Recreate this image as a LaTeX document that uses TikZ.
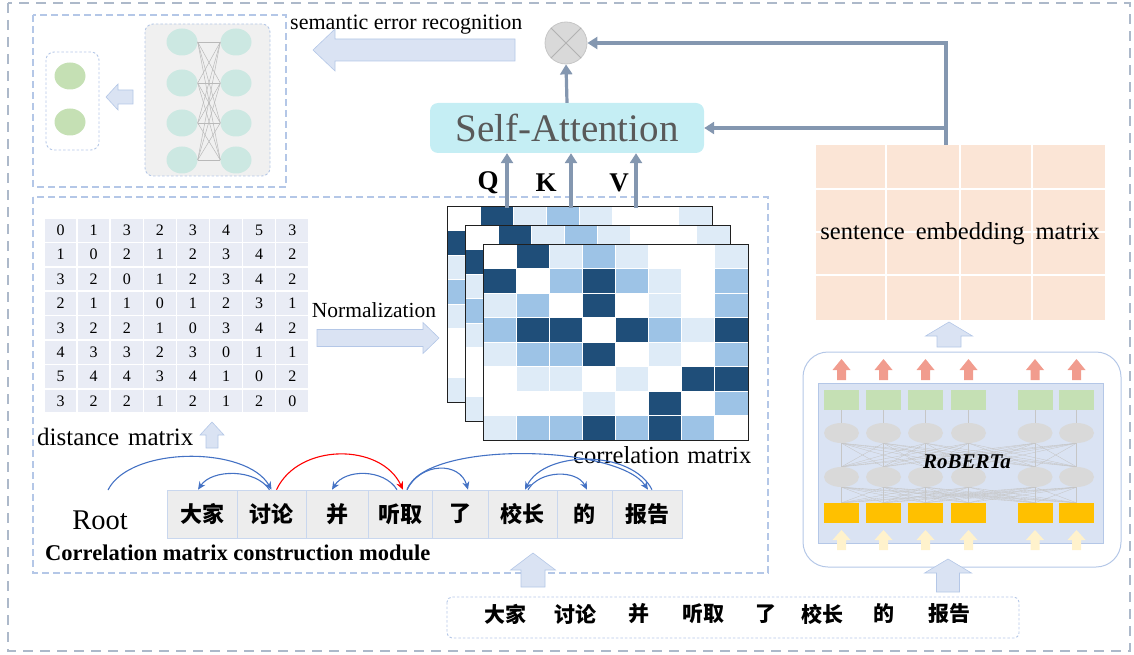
\documentclass[tikz,border=0pt]{standalone}
\usepackage{fontspec}
\setmainfont{Liberation Serif}
\newfontfamily\cjk{Noto Sans CJK SC}
\usetikzlibrary{arrows.meta,shapes.geometric}
\newcommand\setfs[1]{\fontsize{#1}{#1}\selectfont}

\definecolor{frameC}{HTML}{ADB9CA}
\definecolor{dashblue}{HTML}{B4C7E7}
\definecolor{arrowfill}{HTML}{DAE3F3}
\definecolor{connC}{HTML}{8497B0}
\definecolor{cD}{HTML}{1F4E79}
\definecolor{cM}{HTML}{9DC3E6}
\definecolor{cL}{HTML}{DEEBF7}
\definecolor{cW}{HTML}{FFFFFF}
\definecolor{tealC}{HTML}{CCE8E2}
\definecolor{leafC}{HTML}{C5E0B4}
\definecolor{peachC}{HTML}{FBE5D6}
\definecolor{cyanC}{HTML}{C5EEF4}
\definecolor{depC}{HTML}{4472C4}
\definecolor{salmonC}{HTML}{F19C8E}
\definecolor{goldC}{HTML}{FFC000}
\definecolor{creamC}{HTML}{FFF2CC}
\definecolor{distC}{HTML}{E9ECF5}
\definecolor{tokenC}{HTML}{EDEDED}
\definecolor{tokenB}{HTML}{C9D7EE}
\definecolor{textgray}{HTML}{595959}

\tikzset{
  pics/fatarrow/.style n args={5}{code={
    \path[#5] (0,-#2) -- ({#1-#4},-#2) -- ({#1-#4},-#3) -- (#1,0)
      -- ({#1-#4},#3) -- ({#1-#4},#2) -- (0,#2) -- cycle;
  }},
  blockarrow/.style={fill=arrowfill, draw=dashblue, line width=0.6pt},
}

\begin{document}
\begin{tikzpicture}[x=1pt,y=-1pt,
  frame/.style={draw=frameC, line width=2.2pt, dash pattern=on 10pt off 7pt},
  dashbox/.style={draw=dashblue, line width=1.2pt, dash pattern=on 7pt off 4pt},
  finedash/.style={draw=dashblue, line width=0.9pt, dash pattern=on 2.5pt off 2pt},
  neuron/.style={ellipse, fill=tealC, minimum width=31pt, minimum height=27pt, inner sep=0pt},
  outnode/.style={ellipse, fill=leafC, minimum width=31pt, minimum height=27pt, inner sep=0pt},
  wire/.style={draw=gray!55, line width=0.5pt},
  thinwire/.style={draw=gray!45, line width=0.35pt},
  conn/.style={draw=connC, line width=3.2pt, -{Triangle[length=10pt,width=12pt]}},
  dep/.style={draw=depC, line width=1.1pt, -{Stealth[length=8pt,width=7pt]}},
  redep/.style={draw=red, line width=1.1pt, -{Stealth[length=8pt,width=7pt]}},
  dcell/.style={fill=distC, draw=white, line width=1.5pt, minimum width=33.1pt,
    minimum height=24.4pt, inner sep=0pt, font=\setfs{16}},
  token/.style={fill=tokenC, draw=tokenB, line width=0.6pt, minimum height=48pt,
    inner sep=0pt, font=\cjk\bfseries\setfs{22}},
  word/.style={font=\cjk\bfseries\setfs{21}, inner sep=0pt},
  greenbox/.style={fill=leafC, minimum width=35pt, minimum height=20pt, inner sep=0pt},
  goldbox/.style={fill=goldC, minimum width=35pt, minimum height=20pt, inner sep=0pt},
  grayell/.style={ellipse, fill=gray!30, minimum width=35pt, minimum height=20pt, inner sep=0pt},
]
\useasboundingbox (0,0) rectangle (1134,655);

% outer frame
\draw[frame] (8,3) rectangle (1130,651);

% ---------- classifier module (top left) ----------
\draw[dashbox] (33,15) rectangle (286,187);
\draw[finedash, fill=gray!12, rounded corners=8pt] (145,24) rectangle (270,176);
\foreach \k/\y in {1/42,2/83,3/123,4/160} {
  \node[neuron] (nl\k) at (182,\y) {};
  \node[neuron] (nr\k) at (236,\y) {};
}
\foreach \i in {1,...,4} \foreach \j in {1,...,4} \draw[wire] (nl\i.east) -- (nr\j.west);
\draw[finedash, rounded corners=8pt] (46,52) rectangle (99,150);
\node[outnode] (o1) at (70,76) {};
\node[outnode] (o2) at (70,122) {};
\pic[rotate=180] at (133,97) {fatarrow={27}{7}{13}{12}{blockarrow}};

% semantic error recognition
\pic[rotate=180] at (515,50) {fatarrow={202}{11}{21}{22}{blockarrow}};
\node[anchor=base west, inner sep=0pt, font=\setfs{22}] (serlbl) at (290,30) {semantic error recognition};

% ---------- attention and fusion ----------
\node[circle, draw=gray!45, fill=gray!30, line width=0.8pt, minimum size=42pt, inner sep=0pt] (mult) at (566,43) {};
\draw[gray!60, line width=0.8pt] (mult.north west) -- (mult.south east) (mult.north east) -- (mult.south west);
\node[rounded corners=8pt, fill=cyanC, minimum width=274pt, minimum height=50pt, inner sep=0pt,
  text=textgray, font=\setfs{39}] (sa) at (567,128) {Self-Attention};
\draw[conn] (sa.north) -- (mult.south);

% ---------- correlation matrix construction module ----------
\draw[dashbox] (33,197) rectangle (768,573);

% distance matrix
\foreach \rowvals [count=\i from 0] in {{0,1,3,2,3,4,5,3},{1,0,2,1,2,3,4,2},{3,2,0,1,2,3,4,2},
  {2,1,1,0,1,2,3,1},{3,2,2,1,0,3,4,2},{4,3,3,2,3,0,1,1},{5,4,4,3,4,1,0,2},{3,2,2,1,2,1,2,0}} {
  \foreach \v [count=\j from 0] in \rowvals {
    \node[dcell] (d\i\j) at ({60.55+33.1*\j},{230.2+24.4*\i}) {\v};
  }
}
\node[anchor=base west, inner sep=0pt, font=\setfs{25}] (dmlbl) at (37,445) {distance\hspace{9pt}matrix};
\pic[rotate=90] at (212,448) {fatarrow={26}{6}{12}{13}{blockarrow}};

% normalization
\node[anchor=base, inner sep=0pt, font=\setfs{21.5}] (normlbl) at (374,317) {Normalization};
\pic at (317,338) {fatarrow={122}{8.5}{15.5}{16}{blockarrow}};

% stacked correlation matrices
\foreach \ox/\oy/\nm in {447/206/cmA, 465/225/cmB, 483/244/cmC} {
  \fill[white] (\ox,\oy) rectangle ++(265,196);
  \foreach \rowc [count=\i from 0] in {{cW,cD,cL,cM,cL,cW,cW,cL},{cD,cW,cM,cD,cM,cL,cW,cM},
    {cL,cM,cW,cD,cW,cL,cW,cM},{cM,cD,cD,cW,cD,cM,cL,cD},{cL,cM,cM,cD,cW,cL,cW,cM},
    {cW,cL,cL,cW,cL,cW,cD,cD},{cW,cW,cW,cL,cW,cD,cW,cM},{cL,cM,cM,cD,cM,cD,cM,cW}} {
    \foreach \c [count=\j from 0] in \rowc {
      \filldraw[fill=\c, draw=white, line width=0.8pt] ({\ox+33.125*\j},{\oy+24.5*\i}) rectangle ++(33.125,24.5);
    }
  }
  \node[draw=gray!25!black, line width=1.3pt, minimum width=265pt, minimum height=196pt,
    inner sep=0pt, anchor=north west] (\nm) at (\ox,\oy) {};
}
\node[anchor=base west, inner sep=0pt, font=\setfs{24.5}] (cmlbl) at (573,463) {correlation\hspace{8pt}matrix};

% Q, K, V
\coordinate (qa) at (507,208);
\coordinate (ka) at (571,208);
\coordinate (va) at (636,208);
\draw[conn] (qa) -- (qa |- sa.south);
\draw[conn] (ka) -- (ka |- sa.south);
\draw[conn] (va) -- (va |- sa.south);
\node[font=\bfseries\setfs{27}, inner sep=0pt] (qlbl) at (488,183) {Q};
\node[font=\bfseries\setfs{27}, inner sep=0pt] (klbl) at (546,183) {K};
\node[font=\bfseries\setfs{27}, inner sep=0pt] (vlbl) at (619,183) {V};

% dependency tree over the tokens
\node[inner sep=0pt, font=\setfs{28.5}] (root) at (100,520) {Root};
\coordinate (rootarc) at (108,490);
\foreach \w/\cx/\tw [count=\k] in {大家/202/70, 讨论/271.5/69, 并/337/62, 听取/400/64,
  了/460/56, 校长/522.5/69, 的/584.5/55, 报告/647/70} {
  \node[token, minimum width=\tw pt] (t\k) at (\cx,514) {\w};
}
\draw[dep] (rootarc) .. controls +(22,-44) and +(-25,-44) .. (t2.north);
\draw[dep] ([xshift=-2pt]t2.north) .. controls +(-14,-21) and +(14,-21) .. ([xshift=-4pt]t1.north);
\draw[redep] ([xshift=5pt]t2.north) .. controls +(22,-47) and +(-22,-47) .. ([xshift=3pt]t4.north);
\draw[dep] ([xshift=-3pt]t4.north) .. controls +(-13,-21) and +(13,-21) .. ([xshift=-5pt]t3.north);
\draw[dep] ([xshift=7pt]t4.north) .. controls +(14,-28) and +(-8,-28) .. ([xshift=8pt]t5.north);
\draw[dep] ([xshift=7pt]t4.north) .. controls +(18,-50) and +(-30,-45) .. ([xshift=1pt]t8.north);
\draw[dep] ([xshift=5pt]t8.north) .. controls +(-20,-40) and +(20,-40) .. ([xshift=2.5pt]t6.north);
\draw[dep] ([xshift=5.5pt]t6.north) .. controls +(12,-20) and +(-10,-20) .. ([xshift=2.5pt]t7.north);

\node[anchor=base west, inner sep=0pt, font=\bfseries\setfs{22.5}] (modlbl) at (45,560) {Correlation matrix construction module};

\pic[rotate=90] at (533,587) {fatarrow={34}{12}{22.5}{17}{blockarrow}};

% ---------- sentence embedding ----------
\node[fill=peachC, minimum width=289pt, minimum height=175pt, inner sep=0pt] (emb) at (960.5,232.5) {};
\foreach \x in {886,960,1032} \draw[white, line width=2.5pt] (\x,145) -- (\x,320);
\foreach \y in {189,232,275} \draw[white, line width=2.5pt] (816,\y) -- (1105,\y);
\node[anchor=base, inner sep=0pt, font=\setfs{24.5}] (emblbl) at (960,239) {sentence\hspace{11pt}embedding\hspace{11pt}matrix};

\coordinate (tap) at (946,145);
\coordinate (branch) at (946,128);
\draw[conn] (tap) |- (mult.east);
\draw[conn] (branch) -- (sa.east);

\pic[rotate=90] at (949,347) {fatarrow={25}{12}{23.5}{14}{blockarrow}};

% ---------- RoBERTa encoder ----------
\draw[dashblue, line width=1pt, rounded corners=25pt] (803,352) rectangle (1121,567);
\draw[fill=arrowfill, draw=dashblue, line width=0.8pt] (818,383) rectangle (1103,543);
\foreach \cx [count=\k] in {841.5,883.5,925.5,968.5,1035,1076.5} {
  \pic[rotate=90] at (\cx,380) {fatarrow={21}{4.5}{9}{11}{fill=salmonC}};
  \node[greenbox] (g\k) at (\cx,400) {};
  \node[grayell] (ea\k) at (\cx,433) {};
  \node[grayell] (eb\k) at (\cx,477) {};
  \node[goldbox] (y\k) at (\cx,513) {};
  \pic[rotate=90] at (\cx,550) {fatarrow={20}{4.5}{9}{10}{fill=creamC}};
}
\foreach \i in {1,...,6} {
  \draw[thinwire] (g\i.south) -- (ea\i.north);
  \foreach \j in {1,...,6} {
    \draw[thinwire] (ea\i.south) -- (eb\j.north);
    \draw[thinwire] (eb\i.south) -- (y\j.north);
  }
}
\node[inner sep=0pt, font=\bfseries\itshape\setfs{21}] (roberta) at (967,462) {RoBERTa};

\pic[rotate=90] at (948,592) {fatarrow={33}{11.5}{23.5}{14}{blockarrow}};

% ---------- input sentence ----------
\draw[finedash, rounded corners=5pt] (447,597) rectangle (1019,638);
\foreach \w/\cx [count=\k] in {大家/505, 讨论/575, 并/638.5, 听取/703.5, 了/766, 校长/822.5, 的/884, 报告/949} {
  \node[word] (w\k) at (\cx,614) {\w};
}
\end{tikzpicture}
\end{document}
